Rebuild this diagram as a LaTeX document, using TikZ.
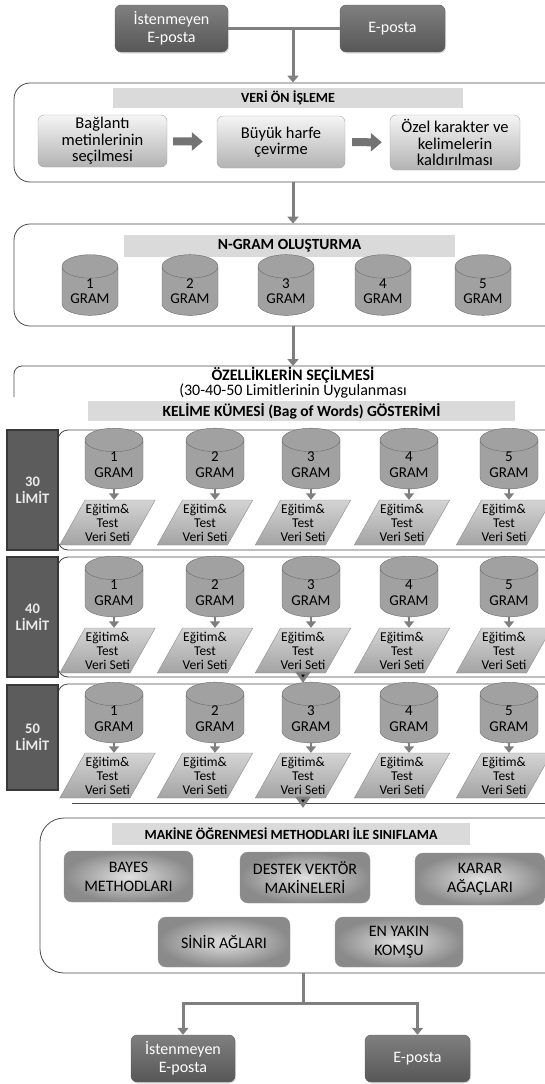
\documentclass[tikz,border=0pt]{standalone}
\usepackage{fontspec}
\setmainfont{Carlito}
\usetikzlibrary{shapes.geometric,arrows.meta,shadows,calc}

\definecolor{conn}{HTML}{7F7F7F}
\definecolor{framec}{HTML}{4A4A4A}
\definecolor{barc}{HTML}{DADADA}

\tikzset{
  x=1pt, y=-1pt,
  sz/.style 2 args={minimum width=#1pt, minimum height=#2pt, inner sep=0pt},
  darkbox/.style={rounded corners=6pt, draw=black!62, top color=black!50, bottom color=black!66,
    text=white, align=center, font=\fontsize{16}{18}\selectfont,
    drop shadow={opacity=0.25, shadow xshift=1pt, shadow yshift=-1.5pt}},
  lightbox/.style={rounded corners=6pt, draw=black!35, top color=black!4, bottom color=black!30,
    align=center, font=\fontsize{16.5}{16.5}\selectfont},
  stagebox/.style={rounded corners=16pt, draw=framec, line width=0.8pt},
  rowbox/.style={rounded corners=10pt, draw=framec, line width=0.8pt},
  titlebar/.style={fill=barc, font=\bfseries\fontsize{14}{16}\selectfont},
  gramcyl/.style={cylinder, shape border rotate=90, aspect=0.6, draw=black!58, fill=black!37,
    align=center, inner sep=0pt, font=\fontsize{15}{15.5}\selectfont},
  dataset/.style={trapezium, trapezium left angle=56, trapezium right angle=124,
    trapezium stretches body, draw=black!45, top color=black!17, bottom color=black!36,
    align=center, inner sep=0pt, font=\fontsize{13.5}{14}\selectfont},
  limitbox/.style={draw=black!78, line width=2pt, fill=black!64, text=black!8, align=center,
    font=\bfseries\fontsize{14.5}{17}\selectfont},
  methbtn/.style={rounded corners=8pt, draw=black!42, shading=radial, inner color=black!12,
    outer color=black!46, align=center, font=\fontsize{16}{19}\selectfont},
  conn/.style={draw=conn, line width=3pt},
  connarrow/.style={conn, -{Triangle[width=11pt,length=7pt]}},
  smallarrow/.style={draw=conn, line width=2.6pt, -{Triangle[width=10pt,length=6.5pt]}},
  blockarrow/.style={draw=black!55, line width=8pt, -{Triangle[width=18pt,length=11pt]}},
}

\begin{document}
\begin{tikzpicture}
\useasboundingbox (0,0) rectangle (545,1084);
\clip (0,0) rectangle (545,1084);

% ---------- inputs ----------
\node[darkbox, sz={113}{47}] (inspam) at (171.5,28.5) {İstenmeyen\\E-posta};
\node[darkbox, sz={105}{47}] (inham) at (392.5,28.5) {E-posta};

% ---------- preprocessing ----------
\node[stagebox, sz={586}{99}] (prep) at (307,132.5) {};
\node[titlebar, sz={350}{20}] (preptitle) at (288,98) {VERİ ÖN İŞLEME};
\node[lightbox, sz={129}{52}] (pa) at (102.5,141) {Bağlantı\\metinlerinin\\seçilmesi};
\node[lightbox, sz={128}{52}] (pb) at (281,142) {Büyük harfe\\çevirme};
\node[lightbox, sz={130}{55}] (pc) at (455,142.5) {Özel karakter ve\\kelimelerin\\kaldırılması};
\draw[blockarrow, shorten <=6pt, shorten >=14pt] (pa) -- (pb);
\draw[blockarrow, shorten <=7pt, shorten >=8pt] (pb) -- (pc);

\coordinate (jin) at (293,28.5);
\draw[conn] (inspam.east) -- (inham.west);
\draw[connarrow] (jin) -- (prep.north -| jin);

% ---------- n-gram generation ----------
\node[stagebox, sz={586}{102}] (ngram) at (307,275) {};
\node[titlebar, font=\bfseries\fontsize{15.5}{17}\selectfont, sz={331}{22}] (ngtitle) at (289.5,246) {N-GRAM OLUŞTURMA};
\foreach \i/\x in {1/90,2/190,3/286,4/383,5/483}{
  \node[gramcyl, minimum width=56pt, minimum height=51pt] (ng\i) at (\x,291) {\i\\GRAM};
}
\draw[connarrow] (prep.south -| jin) -- (ngram.north -| jin);

% ---------- feature selection ----------
\draw[draw=framec, line width=0.8pt, rounded corners=8pt] (14,397) -- (14,366) -- (600,366);
\coordinate (seltop) at (293,366);
\node[font=\bfseries\fontsize{16}{17}\selectfont] (seltitle) at (293,375) {ÖZELLİKLERİN SEÇİLMESİ};
\node[font=\fontsize{16}{17}\selectfont] (selsub) at (293,391) {(30-40-50 Limitlerinin Uygulanması};
\draw[connarrow] (ngram.south -| jin) -- (seltop);

\node[titlebar, font=\bfseries\fontsize{15.5}{17}\selectfont, sz={427}{20}] (bowtitle) at (301.5,411) {KELİME KÜMESİ (Bag of Words) GÖSTERİMİ};

% ---------- limit rows ----------
\node[rowbox, sz={542}{120}] (row30) at (329,490) {};
\node[rowbox, sz={542}{120}] (row40) at (329,617) {};
\draw[draw=framec, line width=0.8pt, rounded corners=10pt] (58,705) -- (58,684) -- (600,684);
\draw[draw=framec, line width=0.8pt] (72,803) -- (600,803);

\node[limitbox, sz={51}{120}] (lim30) at (32.5,490) {30\\LİMİT};
\node[limitbox, sz={51}{120}] (lim40) at (32.5,617) {40\\LİMİT};
\node[limitbox, sz={51}{105}] (lim50) at (32.5,737.5) {50\\LİMİT};

\foreach \r/\cy/\py in {30/464.5/522.5, 40/592.5/650.5, 50/718.5/775.5}{
  \foreach \i/\cx/\px in {1/114/107.5, 2/215/205, 3/311/303, 4/409/402, 5/509/504}{
    \node[gramcyl, minimum width=58pt, minimum height=55pt] (c\r\i) at (\cx,\cy) {\i\\GRAM};
    \node[dataset, minimum width=91pt, minimum height=45pt] (d\r\i) at (\px,\py) {Eğitim\&\\Test\\Veri Seti};
    \draw[smallarrow] (c\r\i.bottom) -- (d\r\i.north -| c\r\i.bottom);
  }
}
% arrow tips peeking out below the third data sets
\fill[conn] ($(d403.south)+(-5,0)$) -- ++(10,0) -- ++(-5,7) -- cycle;
\fill[conn] ($(d503.south)+(-5,0)$) -- ++(10,0) -- ++(-5,7) -- cycle;

% ---------- classification ----------
\node[stagebox, rounded corners=24pt, sz={560}{155}] (clf) at (320,895.5) {};
\node[titlebar, sz={358}{22}] (clftitle) at (291,834) {MAKİNE ÖĞRENMESİ METHODLARI İLE SINIFLAMA};
\node[methbtn, sz={129}{51}] (bayes) at (128.5,876.5) {BAYES\\METHODLARI};
\node[methbtn, sz={130}{51}] (svm) at (305,877.5) {DESTEK VEKTÖR\\MAKİNELERİ};
\node[methbtn, sz={130}{52}] (tree) at (480,879) {KARAR\\AĞAÇLARI};
\node[methbtn, sz={132}{50}] (ann) at (224,942) {SİNİR AĞLARI};
\node[methbtn, sz={128}{50}] (knn) at (399,942) {EN YAKIN\\KOMŞU};

% ---------- outputs ----------
\node[darkbox, sz={104}{47}] (outspam) at (183,1058.5) {İstenmeyen\\E-posta};
\node[darkbox, sz={105}{47}] (outham) at (417.5,1058.5) {E-posta};
\coordinate (jout) at (303,1003);
\draw[conn] (clf.south -| jout) -- (jout);
\draw[connarrow] (jout) -| (outspam.north);
\draw[connarrow] (jout) -| (outham.north);
\end{tikzpicture}
\end{document}
